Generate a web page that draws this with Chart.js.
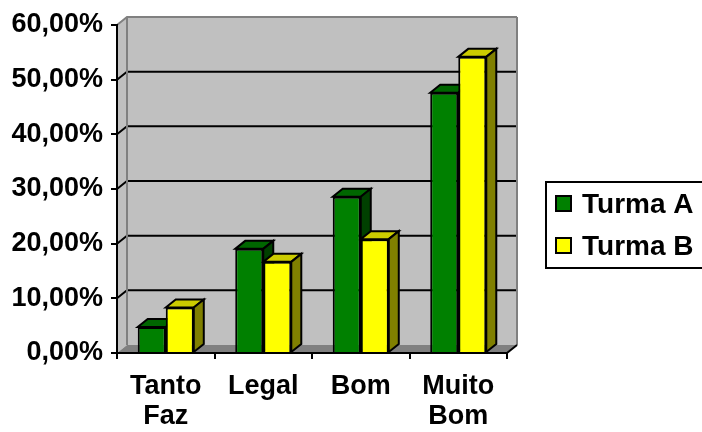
<!DOCTYPE html>
<html>
<head>
<meta charset="utf-8">
<script src="https://cdn.jsdelivr.net/npm/chart.js@4.4.1/dist/chart.umd.min.js"></script>
<style>
  body { margin: 0; background: #fff; }
  #grafico { display: block; }
</style>
</head>
<body>
<canvas id="grafico" width="702" height="432"></canvas>
<script>
// Dados do gráfico
const categorias = [["Tanto", "Faz"], "Legal", "Bom", ["Muito", "Bom"]];
const turmaA = [4.76, 19.05, 28.57, 47.62];
const turmaB = [8.33, 16.67, 20.83, 54.17];
const ticksY = [0, 10, 20, 30, 40, 50, 60];

// Profundidade do efeito 3D
const DX = 10;
const DY = 8;
const FONTE = "'Liberation Sans', Arial, sans-serif";

const cores = {
    A: { frente: "#008000", topo: "#006600", lado: "#004000" },
    B: { frente: "#ffff00", topo: "#cccc00", lado: "#808000" }
};

function poligono(ctx, pts, fill, stroke, lw) {
    ctx.beginPath();
    ctx.moveTo(pts[0][0], pts[0][1]);
    for (let i = 1; i < pts.length; i++) ctx.lineTo(pts[i][0], pts[i][1]);
    ctx.closePath();
    if (fill) { ctx.fillStyle = fill; ctx.fill(); }
    if (stroke) { ctx.strokeStyle = stroke; ctx.lineWidth = lw || 2; ctx.stroke(); }
}

function linha(ctx, pts, cor, lw) {
    ctx.beginPath();
    ctx.moveTo(pts[0][0], pts[0][1]);
    for (let i = 1; i < pts.length; i++) ctx.lineTo(pts[i][0], pts[i][1]);
    ctx.strokeStyle = cor;
    ctx.lineWidth = lw || 2;
    ctx.stroke();
}

// Paredes, piso e linhas de grade
const paredes3D = {
    id: "paredes3D",
    beforeDraw(chart) {
        const { ctx, chartArea: a, scales: { y } } = chart;
        ctx.save();
        // parede do fundo
        ctx.fillStyle = "#c0c0c0";
        ctx.fillRect(a.left + DX, a.top - DY, a.width, a.height);
        // parede lateral
        poligono(ctx, [[a.left, a.top], [a.left + DX, a.top - DY], [a.left + DX, a.bottom - DY], [a.left, a.bottom]], "#c0c0c0");
        // piso
        poligono(ctx, [[a.left, a.bottom], [a.left + DX, a.bottom - DY], [a.right + DX, a.bottom - DY], [a.right, a.bottom]], "#808080");

        ticksY.forEach(v => {
            if (v === 0) return;
            const py = y.getPixelForValue(v);
            const cor = v === 60 ? "#808080" : "#000";
            linha(ctx, [[a.left, py], [a.left + DX, py - DY], [a.right + DX, py - DY]], cor, 2);
        });
        // bordas das paredes
        linha(ctx, [[a.left + DX, a.top - DY], [a.left + DX, a.bottom - DY]], "#808080", 2);
        linha(ctx, [[a.right + DX, a.top - DY], [a.right + DX, a.bottom - DY]], "#808080", 2);
        linha(ctx, [[a.right, a.bottom], [a.right + DX, a.bottom - DY]], "#000", 2);
        ctx.restore();
    },
    beforeDatasetsDraw(chart) {
        const { ctx } = chart;
        ctx.save();
        ctx.lineJoin = "miter";
        chart.data.datasets.forEach((ds, i) => {
            const c = ds.cores3D;
            chart.getDatasetMeta(i).data.forEach(bar => {
                const { x, y, base, width } = bar.getProps(["x", "y", "base", "width"], true);
                const l = x - width / 2, r = x + width / 2;
                // topo
                poligono(ctx, [[l, y], [l + DX, y - DY], [r + DX, y - DY], [r, y]], c.topo, "#000", 2);
                // lateral
                poligono(ctx, [[r, y], [r + DX, y - DY], [r + DX, base - DY], [r, base]], c.lado, "#000", 2);
            });
        });
        ctx.restore();
    },
    afterDraw(chart) {
        // legenda
        const { ctx } = chart;
        ctx.save();
        ctx.fillStyle = "#fff";
        ctx.fillRect(546, 182, 160, 86);
        ctx.strokeStyle = "#000";
        ctx.lineWidth = 2;
        ctx.strokeRect(546, 182, 160, 86);
        ctx.font = "bold 28px " + FONTE;
        ctx.textBaseline = "middle";
        chart.data.datasets.forEach((ds, i) => {
            const cy = 204 + i * 42;
            ctx.fillStyle = ds.backgroundColor;
            ctx.fillRect(556, cy - 8, 15, 15);
            ctx.strokeRect(556, cy - 8, 15, 15);
            ctx.fillStyle = "#000";
            ctx.fillText(ds.label, 582, cy + 1);
        });
        ctx.restore();
    }
};

const ctx = document.getElementById("grafico").getContext("2d");

new Chart(ctx, {
    type: "bar",
    data: {
        labels: categorias,
        datasets: [
            {
                label: "Turma A",
                data: turmaA,
                backgroundColor: cores.A.frente,
                borderColor: "#000",
                borderWidth: 2,
                cores3D: cores.A
            },
            {
                label: "Turma B",
                data: turmaB,
                backgroundColor: cores.B.frente,
                borderColor: "#000",
                borderWidth: 2,
                cores3D: cores.B
            }
        ]
    },
    options: {
        responsive: false,
        animation: false,
        events: [],
        layout: { padding: { left: 0, top: 25, right: 195, bottom: 0 } },
        datasets: {
            bar: { categoryPercentage: 0.575, barPercentage: 1 }
        },
        plugins: {
            legend: { display: false },
            tooltip: { enabled: false }
        },
        scales: {
            x: {
                grid: { display: true, drawOnChartArea: false, drawTicks: true, tickLength: 6, color: "#000", lineWidth: 2, offset: true },
                border: { display: true, color: "#000", width: 2 },
                ticks: {
                    color: "#000",
                    padding: 12,
                    maxRotation: 0,
                    autoSkip: false,
                    font: { family: FONTE, size: 27, weight: "bold", lineHeight: 1.12 }
                },
                afterFit(scale) { scale.height = 79; }
            },
            y: {
                min: 0,
                max: 60,
                ticks: {
                    stepSize: 10,
                    color: "#000",
                    padding: 8,
                    font: { family: FONTE, size: 27, weight: "bold" },
                    callback: v => v.toFixed(2).replace(".", ",") + "%"
                },
                grid: { display: true, drawOnChartArea: false, drawTicks: true, tickLength: 6, color: "#000", lineWidth: 2 },
                border: { display: true, color: "#000", width: 2 },
                afterFit(scale) { scale.width = 117; }
            }
        }
    },
    plugins: [paredes3D]
});
</script>
</body>
</html>
